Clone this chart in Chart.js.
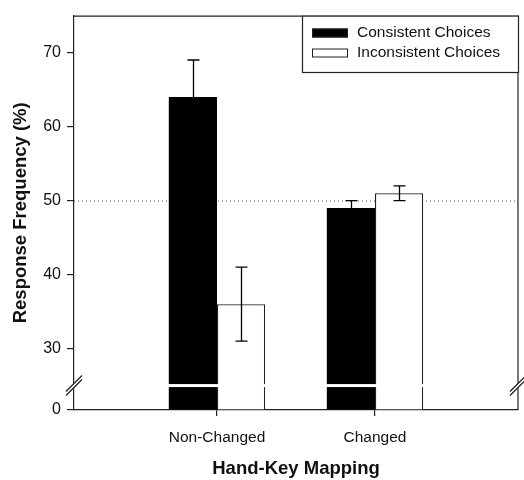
<!DOCTYPE html>
<html>
<head>
<meta charset="utf-8">
<script src="https://cdn.jsdelivr.net/npm/chart.js@4"></script>
<style>
  html, body { margin: 0; padding: 0; background: #fff; }
  #wrap { width: 524px; height: 480px; }
</style>
</head>
<body>
<div id="wrap"><canvas id="chart" width="524" height="480"></canvas></div>
<script>
// data
const categories = ['Non-Changed', 'Changed']
const categoryPos = [1, 2]
const consistent = [64, 49]
const inconsistent = [36, 51]
const consistentErr = [5, 1]
const inconsistentErr = [5, 1]
const yTickValues = [30, 40, 50, 60, 70]
const yBrokenLabel = 0      // label shown at the bottom of the broken axis
const yAxisMin = 21.7       // value at the bottom of the plot (where "0" sits)
const yAxisMax = 75
const breakValue = 25
const chanceLevel = 50

const FONT = 'Liberation Sans, Arial, sans-serif'

// white gap through the bars, break marks on both axes, dotted 50% line, frame
const decorPlugin = {
  id: 'decor',
  beforeDatasetsDraw(chart) {
    const { ctx, chartArea: a, scales: { y } } = chart
    const py = y.getPixelForValue(chanceLevel)
    ctx.save()
    ctx.strokeStyle = '#555'
    ctx.lineWidth = 1
    ctx.setLineDash([1, 3])
    ctx.beginPath()
    ctx.moveTo(a.left, py + 0.5)
    ctx.lineTo(a.right, py + 0.5)
    ctx.stroke()
    ctx.restore()
  },
  afterDatasetsDraw(chart) {
    const { ctx, chartArea: a, scales: { y } } = chart
    const py = y.getPixelForValue(breakValue)
    ctx.save()
    ctx.fillStyle = '#fff'
    ctx.fillRect(a.left + 1, py - 1.5, a.right - a.left - 2, 3)
    ctx.restore()
  },
  afterDraw(chart) {
    const { ctx, chartArea: a, scales: { y } } = chart
    const py = y.getPixelForValue(breakValue)
    ctx.save()
    ctx.strokeStyle = '#222'
    ctx.lineWidth = 1.2
    ctx.beginPath()
    ctx.moveTo(a.left, a.top + 0.5)
    ctx.lineTo(a.right, a.top + 0.5)
    ctx.lineTo(a.right, a.bottom)
    ctx.stroke()
    // break marks
    ;[a.left, a.right].forEach(x => {
      ctx.fillStyle = '#fff'
      ctx.beginPath()
      ctx.moveTo(x - 7, py + 5)
      ctx.lineTo(x + 7, py - 9)
      ctx.lineTo(x + 7, py - 4)
      ctx.lineTo(x - 7, py + 10)
      ctx.closePath()
      ctx.fill()
      ctx.strokeStyle = '#222'
      ctx.lineWidth = 1.3
      ctx.beginPath()
      ctx.moveTo(x - 8, py + 6)
      ctx.lineTo(x + 8, py - 10)
      ctx.moveTo(x - 8, py + 10)
      ctx.lineTo(x + 8, py - 6)
      ctx.stroke()
    })
    ctx.restore()
  }
}

const errorBarPlugin = {
  id: 'errorBars',
  afterDatasetsDraw(chart) {
    const { ctx, scales: { y } } = chart
    const errs = [consistentErr, inconsistentErr]
    ctx.save()
    ctx.strokeStyle = '#000'
    ctx.lineWidth = 1.3
    chart.data.datasets.forEach((ds, di) => {
      chart.getDatasetMeta(di).data.forEach((bar, i) => {
        const v = ds.data[i].y
        const e = errs[di][i]
        const x = Math.round(bar.x) + 0.5
        const hi = y.getPixelForValue(v + e)
        const lo = y.getPixelForValue(v - e)
        ctx.beginPath()
        ctx.moveTo(x, lo)
        ctx.lineTo(x, hi)
        ctx.moveTo(x - 6, hi)
        ctx.lineTo(x + 6, hi)
        ctx.moveTo(x - 6, lo)
        ctx.lineTo(x + 6, lo)
        ctx.stroke()
      })
    })
    ctx.restore()
  }
}

const legendPlugin = {
  id: 'boxLegend',
  afterDraw(chart) {
    const { ctx, chartArea: a } = chart
    const left = 302, top = a.top, right = a.right, bottom = 72
    ctx.save()
    ctx.fillStyle = '#fff'
    ctx.fillRect(left, top, right - left, bottom - top)
    ctx.strokeStyle = '#222'
    ctx.lineWidth = 1.2
    ctx.strokeRect(left + 0.5, top + 0.5, right - left, bottom - top)
    ctx.font = '15.5px ' + FONT
    ctx.textBaseline = 'middle'
    chart.data.datasets.forEach((ds, i) => {
      const cy = 33 + i * 20
      ctx.fillStyle = ds.backgroundColor
      ctx.fillRect(312, cy - 4.5, 36, 9)
      ctx.strokeStyle = '#222'
      ctx.lineWidth = 1
      ctx.strokeRect(312.5, cy - 4, 35, 8)
      ctx.fillStyle = '#111'
      ctx.fillText(ds.label, 357, cy)
    })
    ctx.restore()
  }
}

new Chart(document.getElementById('chart'), {
  type: 'bar',
  data: {
    datasets: [
      {
        label: 'Consistent Choices',
        data: categoryPos.map((x, i) => ({ x, y: consistent[i] })),
        backgroundColor: '#000',
        borderColor: '#000',
        borderWidth: 0,
        base: yAxisMin
      },
      {
        label: 'Inconsistent Choices',
        data: categoryPos.map((x, i) => ({ x, y: inconsistent[i] })),
        backgroundColor: '#fff',
        borderColor: '#222',
        borderWidth: 1.3,
        borderSkipped: 'start',
        base: yAxisMin
      }
    ]
  },
  options: {
    responsive: false,
    animation: false,
    layout: { padding: { left: 0, top: 12, right: 6, bottom: 0 } },
    categoryPercentage: 0.61,
    barPercentage: 1.0,
    plugins: { legend: { display: false }, tooltip: { enabled: false } },
    scales: {
      x: {
        type: 'linear',
        offset: false,
        min: 0.095,
        max: 2.905,
        afterBuildTicks: s => { s.ticks = categoryPos.map(v => ({ value: v })) },
        afterFit: s => { s.height = 70 },
        ticks: {
          callback: v => categories[categoryPos.indexOf(v)] ?? '',
          color: '#111',
          font: { family: FONT, size: 15.5 },
          padding: 12,
          maxRotation: 0
        },
        grid: { offset: false, drawOnChartArea: false, tickLength: 6, color: '#222', lineWidth: 1.2 },
        border: { color: '#222', width: 1.2 },
        title: {
          display: true,
          text: 'Hand-Key Mapping',
          color: '#111',
          font: { family: FONT, size: 18.5, weight: 'bold' },
          padding: { top: 8, bottom: 0 }
        }
      },
      y: {
        min: yAxisMin,
        max: yAxisMax,
        afterBuildTicks: s => { s.ticks = [yAxisMin, ...yTickValues].map(v => ({ value: v })) },
        afterFit: s => { s.width = 74 },
        ticks: {
          callback: v => (v < yTickValues[0] ? String(yBrokenLabel) : String(v)),
          color: '#111',
          font: { family: FONT, size: 16 },
          padding: 6
        },
        grid: { drawOnChartArea: false, tickLength: 7, color: '#222', lineWidth: 1.2 },
        border: { color: '#222', width: 1.2 },
        title: {
          display: true,
          text: 'Response Frequency (%)',
          color: '#111',
          font: { family: FONT, size: 18.5, weight: 'bold' },
          padding: { top: 10, bottom: 4 }
        }
      }
    }
  },
  plugins: [decorPlugin, errorBarPlugin, legendPlugin]
})
</script>
</body>
</html>
